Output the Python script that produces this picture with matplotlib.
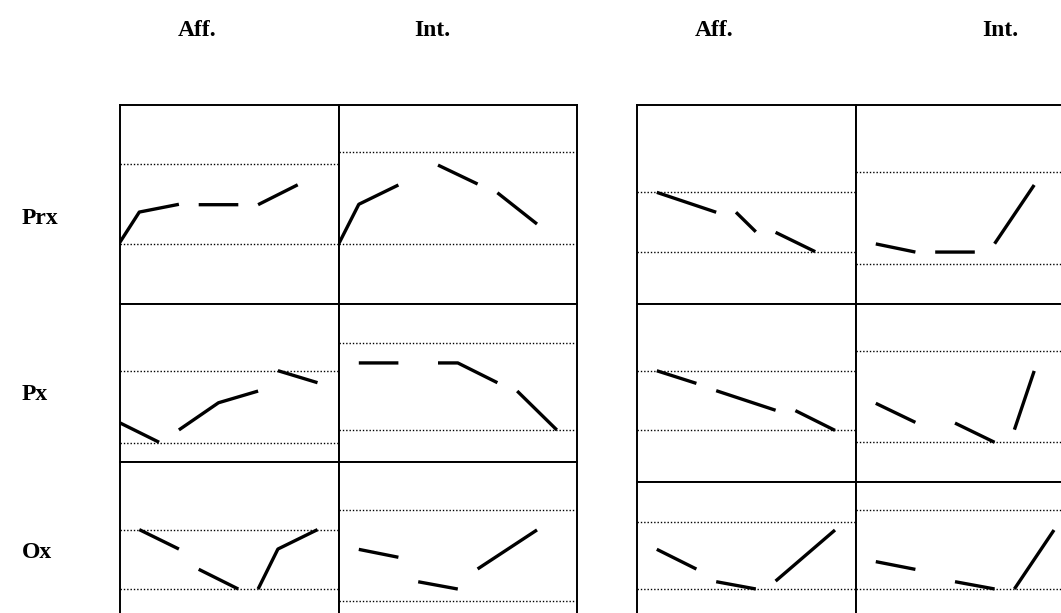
import numpy as np
import matplotlib
matplotlib.use("Agg")
import matplotlib.pyplot as plt

nan = np.nan

# column / row labels
COL_LABELS = ["Aff.", "Int.", "Aff.", "Int."]
ROW_LABELS = ["Prx", "Px", "Ox"]

# each panel: x positions, values (0-100 scale of the panel), nan = break
L_PRX_AFF_X = [0, 0.5, 1.5, nan, 2, 3, nan, 3.5, 4.5]
L_PRX_AFF_Y = [30.7, 46.2, 50.1, nan, 49.9, 49.9, nan, 49.9, 59.9]
L_PRX_INT_X = [0, 0.5, 1.5, nan, 2.5, 3.5, nan, 4, 5]
L_PRX_INT_Y = [30.5, 50.1, 59.8, nan, 69.8, 60.3, nan, 55.9, 40.2]
R_PRX_AFF_X = [0.5, 2, nan, 2.5, 3, nan, 3.5, 4.5]
R_PRX_AFF_Y = [56.1, 46.1, nan, 46.1, 36.3, nan, 36.0, 26.3]
R_PRX_INT_X = [0.5, 1.5, nan, 2, 3, nan, 3.5, 4.5]
R_PRX_INT_Y = [30.2, 26.1, nan, 26.1, 26.1, nan, 30.3, 59.8]

L_PX_AFF_X = [0, 1, nan, 1.5, 2.5, 3.5, nan, 4, 5]
L_PX_AFF_Y = [24.9, 12.5, nan, 20.3, 37.5, 44.9, nan, 57.8, 50.2]
L_PX_INT_X = [0.5, 1.5, nan, 2.5, 3, 4, nan, 4.5, 5.5]
L_PX_INT_Y = [62.7, 62.7, nan, 62.7, 62.7, 50.2, nan, 44.9, 20.3]
R_PX_AFF_X = [0.5, 1.5, nan, 2, 3.5, nan, 4, 5]
R_PX_AFF_Y = [62.5, 55.4, nan, 51.3, 40.3, nan, 40.1, 29.0]
R_PX_INT_X = [0.5, 1.5, nan, 2.5, 3.5, nan, 4, 4.5]
R_PX_INT_Y = [44.2, 33.5, nan, 33.1, 22.3, nan, 29.4, 62.4]

L_OX_AFF_X = [0.5, 1.5, nan, 2, 3, nan, 3.5, 4, 5]
L_OX_AFF_Y = [57.2, 44.9, nan, 32.1, 19.6, nan, 19.6, 44.9, 57.2]
L_OX_INT_X = [0.5, 1.5, nan, 2, 3, nan, 3.5, 5]
L_OX_INT_Y = [44.7, 39.7, nan, 24.2, 19.6, nan, 32.3, 57.0]
R_OX_AFF_X = [0.5, 1.5, nan, 2, 3, nan, 3.5, 5]
R_OX_AFF_Y = [57.4, 44.9, nan, 36.9, 32.3, nan, 37.3, 69.6]
R_OX_INT_X = [0.5, 1.5, nan, 2.5, 3.5, nan, 4, 5]
R_OX_INT_Y = [49.6, 44.7, nan, 36.9, 32.3, nan, 32.3, 69.6]

# dotted reference lines of each panel
GRID = {
    ("L", 0, 0): [30.2, 70.4], ("L", 0, 1): [30.2, 76.2],
    ("R", 0, 0): [26.3, 56.3], ("R", 0, 1): [20.3, 66.3],
    ("L", 1, 0): [12.2, 57.8], ("L", 1, 1): [20.0, 75.3],
    ("R", 1, 0): [29.0, 62.5], ("R", 1, 1): [22.3, 73.6],
    ("L", 2, 0): [19.6, 57.2], ("L", 2, 1): [12.0, 69.6],
    ("R", 2, 0): [32.3, 74.9], ("R", 2, 1): [32.3, 82.3],
}

SERIES = {
    ("L", 0, 0): (L_PRX_AFF_X, L_PRX_AFF_Y), ("L", 0, 1): (L_PRX_INT_X, L_PRX_INT_Y),
    ("R", 0, 0): (R_PRX_AFF_X, R_PRX_AFF_Y), ("R", 0, 1): (R_PRX_INT_X, R_PRX_INT_Y),
    ("L", 1, 0): (L_PX_AFF_X, L_PX_AFF_Y), ("L", 1, 1): (L_PX_INT_X, L_PX_INT_Y),
    ("R", 1, 0): (R_PX_AFF_X, R_PX_AFF_Y), ("R", 1, 1): (R_PX_INT_X, R_PX_INT_Y),
    ("L", 2, 0): (L_OX_AFF_X, L_OX_AFF_Y), ("L", 2, 1): (L_OX_INT_X, L_OX_INT_Y),
    ("R", 2, 0): (R_OX_AFF_X, R_OX_AFF_Y), ("R", 2, 1): (R_OX_INT_X, R_OX_INT_Y),
}

W, H = 1061, 613
UNIT = 39.6  # pixels per x unit

# panel frames in pixels
COL_X = {"L": [(119.5, 219.5), (339, 238)], "R": [(637, 219), (856, 238)]}
ROW_Y = {"L": [(105, 199), (304, 158), (462, 158)], "R": [(105, 199), (304, 178), (482, 158)]}

fig = plt.figure(figsize=(W / 100, H / 100), dpi=100)

for (grp, r, c), (xs, ys) in SERIES.items():
    x0, w = COL_X[grp][c]
    y0, h = ROW_Y[grp][r]
    ax = fig.add_axes([x0 / W, 1 - (y0 + h) / H, w / W, h / H])
    ax.set_xlim(0, w / UNIT)
    ax.set_ylim(0, 100)
    for g in GRID[(grp, r, c)]:
        ax.axhline(g, color="black", lw=1.0, ls=(0, (1, 1.4)), zorder=1)
    ax.plot(xs, ys, color="black", lw=2.4, solid_capstyle="butt", zorder=3)
    ax.set_xticks([])
    ax.set_yticks([])
    for s in ax.spines.values():
        s.set_linewidth(1.4)

font = dict(family=["Liberation Serif", "DejaVu Serif"], fontweight="bold", fontsize=17)
for lab, px in zip(COL_LABELS, [197, 432, 714, 1000]):
    fig.text(px / W, 1 - 30 / H, lab, ha="center", va="center", **font)
for lab, py in zip(ROW_LABELS, [218, 395, 553]):
    fig.text(22 / W, 1 - py / H, lab, ha="left", va="center", **font)

fig.savefig("out.png", dpi=100)
